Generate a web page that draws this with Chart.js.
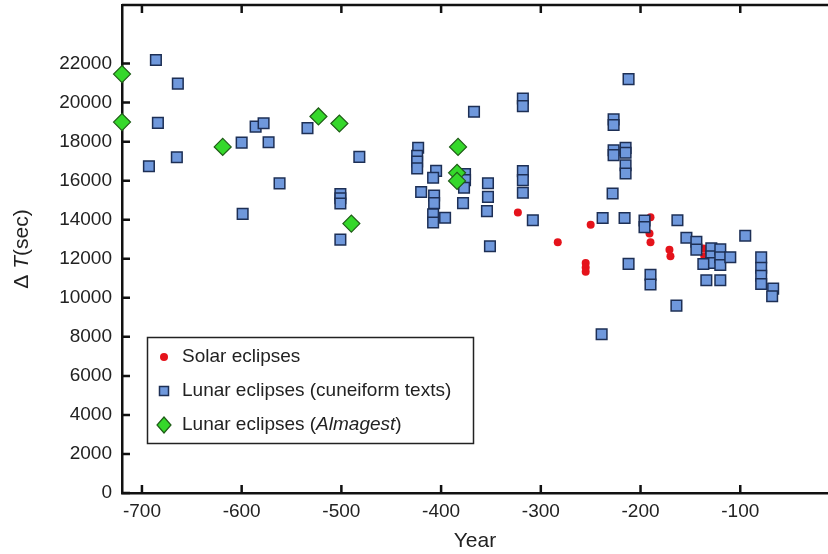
<!DOCTYPE html>
<html>
<head>
<meta charset="utf-8">
<script src="https://cdn.jsdelivr.net/npm/chart.js@4/dist/chart.umd.min.js"></script>
<style>
  html, body { margin: 0; padding: 0; background: #fff; }
</style>
</head>
<body>
<canvas id="dtChart" width="828" height="554"></canvas>
<script>
// values (year, Delta T in seconds)
var solarYears = [-323, -283, -255, -255, -255, -250, -190, -191, -190, -171, -170, -137, -136];
var solarDT    = [14370, 12850, 11780, 11550, 11330, 13740, 14130, 13290, 12850, 12460, 12130, 12520, 12130];

var cuneiformYears = [
  -686, -664, -684, -693, -665, -600, -586, -578, -573, -562, -599, -534, -482,
  -501, -501, -501, -501, -212, -367, -318, -318, -423, -424, -424, -424, -405,
  -408, -376, -376, -377, -420, -407, -407, -378, -408, -408, -396, -353, -353,
  -354, -351, -318, -318, -318, -308, -238, -227, -227, -227, -227, -215, -215,
  -215, -215, -228, -216, -196, -196, -212, -190, -190, -163, -154, -144, -144,
  -129, -129, -129, -120, -120, -120, -137, -110, -95, -134, -120, -79, -79,
  -79, -79, -67, -68, -164, -239
];
var cuneiformDT = [
  22180, 20970, 18960, 16740, 17200, 17950, 18770, 18940, 17970, 15860, 14300, 18690, 17220,
  15310, 15100, 14830, 12980, 21200, 19530, 20210, 19820, 17690, 17280, 16980, 16630, 16500,
  16150, 16340, 16030, 15640, 15420, 15240, 14850, 14850, 14280, 13860, 14100, 15870, 15170,
  14440, 12640, 16490, 16030, 15380, 13970, 14090, 19140, 18850, 17560, 17310, 17680, 17430,
  16790, 16370, 15340, 14090, 13960, 13620, 11740, 11180, 10680, 13970, 13080, 12870, 12470,
  12540, 12130, 11780, 12480, 12080, 11680, 11730, 12080, 13180, 10900, 10900, 12070, 11540,
  11130, 10710, 10470, 10080, 9600, 8130
];

var almagestYears = [-720, -720, -619, -523, -502, -490, -383, -384, -384];
var almagestDT    = [21460, 19000, 17730, 19290, 18930, 13800, 17730, 16400, 15990];

var xTickValues = [-700, -600, -500, -400, -300, -200, -100];
var yTickValues = [0, 2000, 4000, 6000, 8000, 10000, 12000, 14000, 16000, 18000, 20000, 22000];

var FONT = "'Liberation Sans', Arial, sans-serif";
var INK = '#222';

function toPoints(xs, ys) {
  return xs.map(function (x, i) { return { x: x, y: ys[i] }; });
}

// inward tick marks, top frame line and the y title
var framePlugin = {
  id: 'framePlugin',
  beforeDatasetsDraw: function (chart) {
    var ctx = chart.ctx, a = chart.chartArea, x = chart.scales.x, y = chart.scales.y;
    ctx.save();
    ctx.strokeStyle = '#111';
    ctx.lineWidth = 2.5;
    ctx.beginPath();
    ctx.moveTo(a.left, a.top);
    ctx.lineTo(a.right, a.top);
    xTickValues.forEach(function (v) {
      var p = x.getPixelForValue(v);
      ctx.moveTo(p, a.bottom); ctx.lineTo(p, a.bottom - 8);
      ctx.moveTo(p, a.top); ctx.lineTo(p, a.top + 8);
    });
    yTickValues.forEach(function (v) {
      var p = y.getPixelForValue(v);
      ctx.moveTo(a.left, p); ctx.lineTo(a.left + 8, p);
    });
    ctx.stroke();

    // rotated "ΔT(sec)" with italic T
    var parts = [['Δ ', 'normal'], ['T', 'italic'], ['(sec)', 'normal']];
    ctx.translate(22, (a.top + a.bottom) / 2);
    ctx.rotate(-Math.PI / 2);
    ctx.fillStyle = INK;
    ctx.textBaseline = 'middle';
    var total = 0;
    parts.forEach(function (p) { ctx.font = p[1] + ' 21px ' + FONT; total += ctx.measureText(p[0]).width; });
    var cx = -total / 2;
    parts.forEach(function (p) {
      ctx.font = p[1] + ' 21px ' + FONT;
      ctx.fillText(p[0], cx, 0);
      cx += ctx.measureText(p[0]).width;
    });
    ctx.restore();
  },
  afterDraw: function (chart) {
    var ctx = chart.ctx;
    ctx.save();
    var bx = 147.5, by = 337.5, bw = 326, bh = 106;
    ctx.fillStyle = '#fff';
    ctx.fillRect(bx, by, bw, bh);
    ctx.strokeStyle = '#222';
    ctx.lineWidth = 1.5;
    ctx.strokeRect(bx, by, bw, bh);

    var mx = 164, tx = 182;
    var rows = [357, 391, 425];
    // red dot
    ctx.fillStyle = '#e5131b';
    ctx.beginPath(); ctx.arc(mx, rows[0], 4, 0, Math.PI * 2); ctx.fill();
    // blue square
    ctx.fillStyle = '#6f98dc'; ctx.strokeStyle = '#1d2f55'; ctx.lineWidth = 1.5;
    ctx.fillRect(mx - 4.5, rows[1] - 4.5, 9, 9); ctx.strokeRect(mx - 4.5, rows[1] - 4.5, 9, 9);
    // green diamond
    ctx.fillStyle = '#35d82b'; ctx.strokeStyle = '#1f5c17'; ctx.lineWidth = 1.2;
    ctx.beginPath();
    ctx.moveTo(mx, rows[2] - 8); ctx.lineTo(mx + 7, rows[2]); ctx.lineTo(mx, rows[2] + 8); ctx.lineTo(mx - 7, rows[2]);
    ctx.closePath(); ctx.fill(); ctx.stroke();

    ctx.fillStyle = INK;
    ctx.textBaseline = 'middle';
    ctx.font = '19px ' + FONT;
    ctx.fillText('Solar eclipses', tx, rows[0]);
    ctx.fillText('Lunar eclipses (cuneiform texts)', tx, rows[1]);
    var segs = [['Lunar eclipses (', 'normal'], ['Almagest', 'italic'], [')', 'normal']];
    var px = tx;
    segs.forEach(function (s) {
      ctx.font = s[1] + ' 19px ' + FONT;
      ctx.fillText(s[0], px, rows[2]);
      px += ctx.measureText(s[0]).width;
    });
    ctx.restore();
  }
};

var ctx = document.getElementById('dtChart').getContext('2d');
var chart = new Chart(ctx, {
  type: 'scatter',
  data: {
    datasets: [{
      label: 'Solar eclipses',
      data: toPoints(solarYears, solarDT),
      pointStyle: 'circle',
      pointRadius: 4,
      backgroundColor: '#e5131b',
      borderColor: '#e5131b',
      borderWidth: 0,
      order: 2,
      clip: false
    }, {
      label: 'Lunar eclipses (cuneiform texts)',
      data: toPoints(cuneiformYears, cuneiformDT),
      pointStyle: 'rect',
      pointRadius: 7.5,
      backgroundColor: '#6f98dc',
      borderColor: '#1d2f55',
      borderWidth: 1.5,
      order: 1,
      clip: false
    }, {
      label: 'Lunar eclipses (Almagest)',
      data: toPoints(almagestYears, almagestDT),
      pointStyle: 'rectRot',
      pointRadius: 8.5,
      backgroundColor: '#35d82b',
      borderColor: '#1f5c17',
      borderWidth: 1.2,
      order: 0,
      clip: false
    }]
  },
  options: {
    responsive: false,
    devicePixelRatio: 1,
    animation: false,
    layout: { autoPadding: false, padding: { top: 5, right: 0, bottom: 0, left: 0 } },
    plugins: {
      legend: { display: false },
      tooltip: { enabled: false }
    },
    scales: {
      x: {
        type: 'linear',
        min: -720,
        max: -12,
        afterBuildTicks: function (s) { s.ticks = xTickValues.map(function (v) { return { value: v }; }); },
        afterFit: function (s) { s.height = 61; s.paddingLeft = 0; s.paddingRight = 0; },
        grid: { display: false, drawTicks: false },
        border: { display: true, color: '#111', width: 2.5 },
        ticks: {
          color: INK, padding: 7, maxRotation: 0, autoSkip: false,
          font: { family: FONT, size: 19 },
          callback: function (v) { return String(v); }
        },
        title: {
          display: true, text: 'Year', color: INK,
          font: { family: FONT, size: 21 },
          padding: { top: 0, bottom: 0 }
        }
      },
      y: {
        type: 'linear',
        min: 0,
        max: 25000,
        afterBuildTicks: function (s) { s.ticks = yTickValues.map(function (v) { return { value: v }; }); },
        afterFit: function (s) { s.width = 122; s.paddingTop = 0; s.paddingBottom = 0; },
        grid: { display: false, drawTicks: false },
        border: { display: true, color: '#111', width: 2.5 },
        ticks: {
          color: INK, padding: 10,
          font: { family: FONT, size: 19 },
          callback: function (v) { return String(v); }
        }
      }
    }
  },
  plugins: [framePlugin]
});
</script>
</body>
</html>
